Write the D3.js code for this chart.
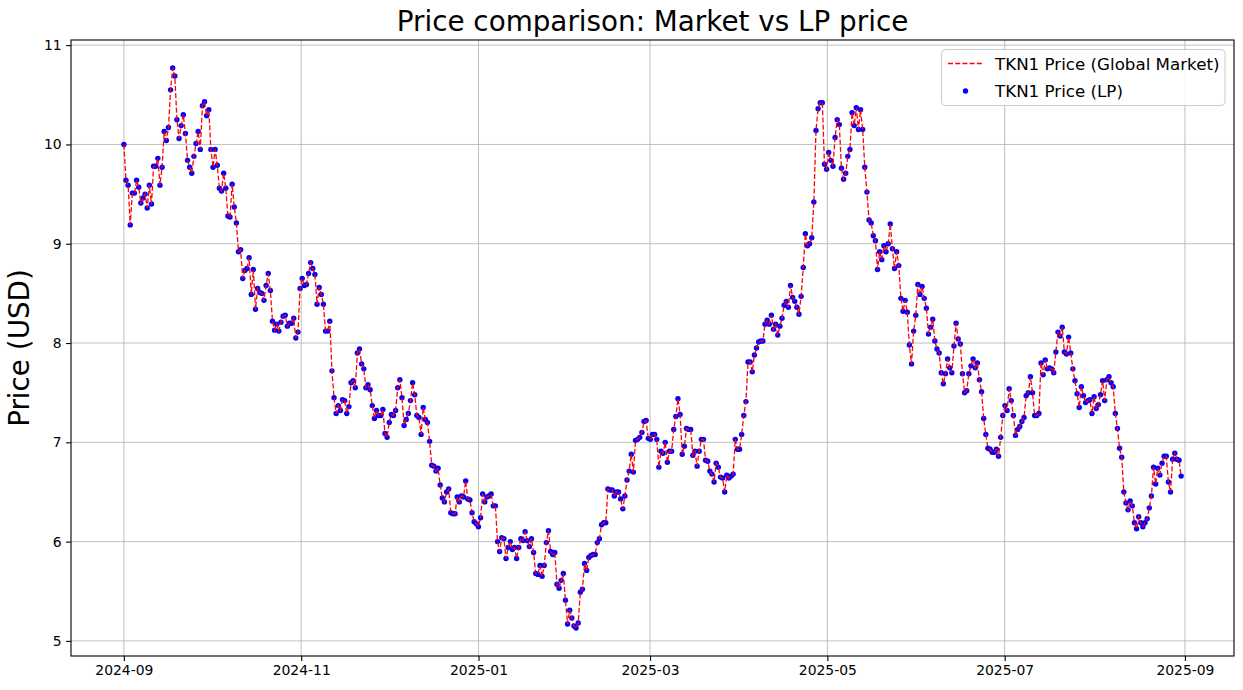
<!DOCTYPE html>
<html>
<head>
<meta charset="utf-8">
<script src="https://cdn.jsdelivr.net/npm/d3@7"></script>
<style>
body { margin: 0; background: #fff; }
svg { display: block; font-family: "DejaVu Sans", sans-serif; }
</style>
</head>
<body>
<svg id="chart" width="1243" height="690"></svg>
<script>
// series runs from the first date over this many days, evenly stepped
var startDate = "2024-09-01";
var spanDays = 363.7;

// TKN1 price (LP points sit on the market line)
var pricesSepOct = [10.00, 9.64, 9.59, 9.19, 9.51, 9.51, 9.64, 9.57, 9.41, 9.46, 9.50, 9.36, 9.59, 9.40, 9.78, 9.78,
	9.86, 9.59, 9.77, 10.13, 10.04, 10.17, 10.55, 10.77, 10.69, 10.25, 10.06, 10.19, 10.30, 10.11, 9.84, 9.77,
	9.71, 9.88, 10.01, 10.13, 9.95, 10.39, 10.43, 10.29, 10.35, 9.95, 9.77, 9.95, 9.79, 9.56, 9.53, 9.71,
	9.56, 9.28, 9.27, 9.60, 9.37, 9.21, 8.92, 8.94, 8.65, 8.73, 8.75, 8.86, 8.49, 8.74, 8.34, 8.55,
	8.51, 8.50, 8.43, 8.58, 8.70, 8.53, 8.22, 8.13, 8.19, 8.12, 8.21, 8.27, 8.28, 8.17, 8.20, 8.20,
	8.25, 8.05, 8.11, 8.55, 8.65, 8.58, 8.59, 8.70, 8.81, 8.75, 8.69, 8.39, 8.56, 8.49, 8.39, 8.12, 8.12, 8.22];
var pricesNovDec = [7.72, 7.45, 7.29, 7.37, 7.32, 7.43, 7.42, 7.29, 7.36, 7.60, 7.62, 7.55, 7.90, 7.94, 7.79, 7.74,
	7.55, 7.58, 7.53, 7.37, 7.24, 7.32, 7.27, 7.27, 7.33, 7.09, 7.05, 7.20, 7.28, 7.27, 7.32, 7.55,
	7.63, 7.45, 7.17, 7.23, 7.29, 7.42, 7.60, 7.48, 7.27, 7.25, 7.08, 7.35, 7.23, 7.20, 7.01, 6.77,
	6.76, 6.71, 6.74, 6.57, 6.44, 6.40, 6.50, 6.53, 6.29, 6.28, 6.28, 6.45, 6.40, 6.46, 6.45, 6.61,
	6.43, 6.42, 6.29, 6.20, 6.18, 6.15, 6.24, 6.48, 6.40, 6.45, 6.46, 6.48, 6.36, 6.36, 6.00, 5.90,
	6.04, 6.03, 5.83, 5.94, 6.00, 5.92, 5.94, 5.83, 5.94, 6.03, 6.01, 6.10, 6.01, 5.95, 6.03, 5.89];
var pricesJanApr = [5.68, 5.67, 5.76, 5.65, 5.76, 5.99, 6.11, 5.90, 5.87, 5.89, 5.57, 5.53, 5.61, 5.68, 5.41, 5.17,
	5.31, 5.23, 5.15, 5.13, 5.18, 5.49, 5.52, 5.78, 5.71, 5.84, 5.86, 5.87, 5.87, 5.99, 6.03, 6.17,
	6.19, 6.19, 6.53, 6.52, 6.52, 6.46, 6.50, 6.50, 6.43, 6.33, 6.46, 6.62, 6.71, 6.88, 6.70, 7.02,
	7.03, 7.05, 7.10, 7.21, 7.22, 7.04, 7.03, 7.08, 7.08, 7.03, 6.75, 6.91, 6.89, 7.00, 6.80, 6.91,
	6.91, 7.13, 7.26, 7.44, 7.28, 6.88, 6.96, 7.14, 7.13, 7.13, 6.87, 6.91, 6.76, 6.91, 7.03, 7.03,
	6.82, 6.81, 6.71, 6.68, 6.60, 6.79, 6.75, 6.65, 6.64, 6.50, 6.67, 6.64, 6.66, 6.68, 7.03, 6.93,
	6.93, 7.08, 7.27, 7.41, 7.81, 7.81, 7.71, 7.88, 7.95, 8.01, 8.02, 8.02, 8.19, 8.23, 8.19, 8.28,
	8.14, 8.19, 8.08, 8.17, 8.25, 8.38, 8.42, 8.36, 8.58, 8.46, 8.42, 8.36, 8.29, 8.47, 8.76, 9.10,
	8.98, 9.00, 9.06, 9.42, 10.14, 10.36, 10.42, 10.42];
var pricesMayAug = [9.80, 9.75, 9.92, 9.84, 9.78, 10.07, 10.25, 10.20, 9.76, 9.65, 9.71, 9.88, 9.95, 10.32, 10.19,
	10.37, 10.15, 10.35, 10.15, 9.77, 9.52, 9.24, 9.21, 9.08, 9.03, 8.74, 8.92, 8.84, 8.98, 8.92, 9.00,
	9.20, 8.95, 8.75, 8.92, 8.78, 8.45, 8.32, 8.43, 8.31, 7.98, 7.79, 8.12, 8.28, 8.59, 8.49, 8.57,
	8.45, 8.35, 8.09, 8.16, 8.24, 8.02, 7.94, 7.90, 7.70, 7.59, 7.69, 7.84, 7.75, 7.70, 7.97, 8.20,
	8.04, 7.99, 7.69, 7.50, 7.52, 7.69, 7.77, 7.84, 7.75, 7.80, 7.63, 7.51, 7.24, 7.08, 6.94, 6.93,
	6.90, 6.90, 6.93, 6.86, 7.05, 7.27, 7.37, 7.32, 7.54, 7.42, 7.27, 7.07, 7.13, 7.16, 7.21, 7.25,
	7.47, 7.50, 7.66, 7.50, 7.27, 7.27, 7.29, 7.80, 7.68, 7.83, 7.74, 7.75, 7.74, 7.70,
	7.91, 8.11, 8.07, 8.16, 7.91, 7.89, 8.06, 7.90, 7.74, 7.62, 7.49, 7.35, 7.56, 7.47, 7.40, 7.42,
	7.43, 7.29, 7.46, 7.34, 7.38, 7.48, 7.62, 7.42, 7.63, 7.66, 7.60, 7.56, 7.29, 7.14, 6.94, 6.85,
	6.50, 6.39, 6.32, 6.41, 6.36, 6.19, 6.13, 6.25, 6.19, 6.15, 6.19, 6.23, 6.34, 6.46, 6.75,
	6.58, 6.74, 6.67, 6.79, 6.86, 6.86, 6.60, 6.50, 6.83, 6.89, 6.83, 6.82, 6.66];

var xTickLabels = ["2024-09", "2024-11", "2025-01", "2025-03", "2025-05", "2025-07", "2025-09"];
var yTickValues = [5, 6, 7, 8, 9, 10, 11];
var seriesNames = ["TKN1 Price (Global Market)", "TKN1 Price (LP)"];

// plot box in pixels (not named top/left: those clash with window globals)
var plotL = 71, plotR = 1234, plotT = 40, plotB = 656;

var prices = pricesSepOct.concat(pricesNovDec, pricesJanApr, pricesMayAug);
var t0 = d3.timeParse("%Y-%m-%d")(startDate);
var step = spanDays * 864e5 / (prices.length - 1);
var data = prices.map((p, i) => ({ date: new Date(t0.getTime() + i * step), price: p }));

var svg = d3.select('#chart');

// matplotlib style 5% margins on both axes
var tMin = data[0].date.getTime(), tMax = data[data.length - 1].date.getTime();
var tPad = (tMax - tMin) * 0.05;
var x = d3.scaleTime().domain([new Date(tMin - tPad), new Date(tMax + tPad)]).range([plotL, plotR]);
var pMin = d3.min(prices), pMax = d3.max(prices), pPad = (pMax - pMin) * 0.05;
var y = d3.scaleLinear().domain([pMin - pPad, pMax + pPad]).range([plotB, plotT]);

var xTicks = xTickLabels.map(d3.timeParse("%Y-%m"));

// grid
var grid = svg.append('g');
grid.selectAll('line.gx').data(xTicks).enter().append('line')
	.attr('x1', d => x(d)).attr('x2', d => x(d)).attr('y1', plotT).attr('y2', plotB)
	.attr('stroke', '#b0b0b0').attr('stroke-width', 0.8);
grid.selectAll('line.gy').data(yTickValues).enter().append('line')
	.attr('x1', plotL).attr('x2', plotR).attr('y1', d => y(d)).attr('y2', d => y(d))
	.attr('stroke', '#b0b0b0').attr('stroke-width', 0.8);

// LP points, then the market line over them
svg.append('g').selectAll('circle').data(data).enter().append('circle')
	.attr('cx', d => x(d.date)).attr('cy', d => y(d.price)).attr('r', 2.7)
	.attr('fill', 'blue');

var line = d3.line().x(d => x(d.date)).y(d => y(d.price));
svg.append('path').datum(data).attr('d', line)
	.attr('fill', 'none').attr('stroke', 'red').attr('stroke-width', 1.3)
	.attr('stroke-dasharray', '5,2.2');

// frame
svg.append('rect').attr('x', plotL).attr('y', plotT).attr('width', plotR - plotL).attr('height', plotB - plotT)
	.attr('fill', 'none').attr('stroke', 'black').attr('stroke-width', 1.1);

// axes
var xAxis = svg.append('g').attr('transform', 'translate(0,' + plotB + ')')
	.call(d3.axisBottom(x).tickValues(xTicks).tickFormat(d3.timeFormat('%Y-%m')).tickSize(4.9).tickPadding(4.5));
var yAxis = svg.append('g').attr('transform', 'translate(' + plotL + ',0)')
	.call(d3.axisLeft(y).tickValues(yTickValues).tickFormat(d3.format('d')).tickSize(4.9).tickPadding(4.5));
[xAxis, yAxis].forEach(a => {
	a.select('.domain').remove();
	a.selectAll('line').attr('stroke', 'black').attr('stroke-width', 1.1);
	a.selectAll('text').attr('font-family', '"DejaVu Sans", sans-serif').attr('font-size', 13.9).attr('fill', 'black');
});

// title and y label
svg.append('text').attr('x', (plotL + plotR) / 2).attr('y', 31).attr('text-anchor', 'middle')
	.attr('font-size', 27.8).text('Price comparison: Market vs LP price');
svg.append('text').attr('transform', 'translate(29,' + ((plotT + plotB) / 2) + ') rotate(-90)')
	.attr('text-anchor', 'middle').attr('font-size', 27.8).text('Price (USD)');

// legend
var lg = svg.append('g');
lg.append('rect').attr('x', 941.5).attr('y', 49.5).attr('width', 283.5).attr('height', 56).attr('rx', 4)
	.attr('fill', 'white').attr('fill-opacity', 0.8).attr('stroke', '#cccccc').attr('stroke-width', 1);
lg.append('line').attr('x1', 948).attr('x2', 982).attr('y1', 63.5).attr('y2', 63.5)
	.attr('stroke', 'red').attr('stroke-width', 1.3).attr('stroke-dasharray', '5,2.2');
lg.append('circle').attr('cx', 965.5).attr('cy', 91).attr('r', 2.7).attr('fill', 'blue');
lg.selectAll('text').data(seriesNames).enter().append('text')
	.attr('x', 995).attr('y', (d, i) => 69.5 + i * 27).attr('font-size', 16.7).text(d => d);
</script>
</body>
</html>
